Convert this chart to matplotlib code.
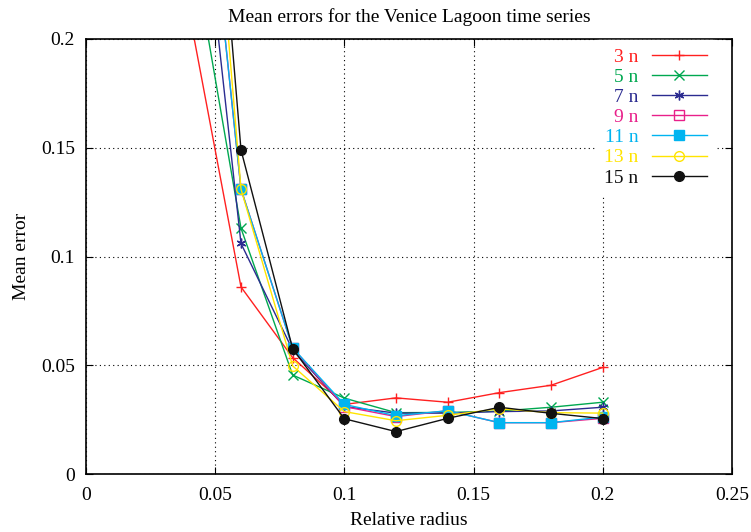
import matplotlib
matplotlib.use("Agg")
import matplotlib.pyplot as plt

plt.rcParams['font.family'] = ['Liberation Serif', 'DejaVu Serif']

radius = [0.04, 0.06, 0.08, 0.10, 0.12, 0.14, 0.16, 0.18, 0.20]

err_3n = [0.212, 0.086, 0.0535, 0.032, 0.0350, 0.0330, 0.0374, 0.0408, 0.0490]
err_5n = [0.251, 0.113, 0.0455, 0.0349, 0.0282, 0.0283, 0.0289, 0.0307, 0.0330]
err_7n = [0.322, 0.106, 0.0570, 0.0310, 0.0280, 0.0280, 0.0287, 0.0290, 0.0307]
err_9n = [0.357, 0.131, 0.0580, 0.0310, 0.0264, 0.0291, 0.0236, 0.0236, 0.0256]
err_11n = [0.357, 0.131, 0.0580, 0.0320, 0.0268, 0.0291, 0.0236, 0.0236, 0.0262]
err_13n = [0.417, 0.131, 0.0497, 0.0287, 0.0245, 0.0270, 0.0300, 0.0282, 0.0280]
err_15n = [0.435, 0.149, 0.0576, 0.0254, 0.0195, 0.0256, 0.0307, 0.0279, 0.0255]

labels = ['3 n', '5 n', '7 n', '9 n', '11 n', '13 n', '15 n']
series = [err_3n, err_5n, err_7n, err_9n, err_11n, err_13n, err_15n]
colors = ['#ff2020', '#00a850', '#2b2b90', '#e8208a', '#00b4f0', '#ffe400', '#111111']
markers = ['+', 'x', (6, 2, 0), 's', 's', 'o', 'o']
filled = [True, True, True, False, True, False, True]

fig = plt.figure(figsize=(7.51, 5.32), dpi=100)
ax = fig.add_axes([0.1145, 0.109, 0.860, 0.8177])

for y, lab, c, m, f in zip(series, labels, colors, markers, filled):
    ax.plot(radius, y, color=c, marker=m, markersize=7, linewidth=1.0,
            markerfacecolor=c if f else 'none', markeredgecolor=c,
            markeredgewidth=1.0, label=lab)

ax.set_xlim(0, 0.25)
ax.set_ylim(0, 0.2)
ax.set_xticks([0, 0.05, 0.1, 0.15, 0.2, 0.25])
ax.set_xticklabels(['0', '0.05', '0.1', '0.15', '0.2', '0.25'])
ax.set_yticks([0, 0.05, 0.1, 0.15, 0.2])
ax.set_yticklabels(['0', '0.05', '0.1', '0.15', '0.2'])
ax.tick_params(direction='in', top=True, right=True, labelsize=14, length=5)
ax.tick_params(axis='x', pad=9)
ax.tick_params(axis='y', pad=8)
ax.grid(True, linestyle=(0, (1, 3)), color='black', linewidth=0.8)
for s in ax.spines.values():
    s.set_linewidth(1.2)

ax.set_title('Mean errors for the Venice Lagoon time series', fontsize=14, pad=12)
ax.set_xlabel('Relative radius', fontsize=14, labelpad=6)
ax.set_ylabel('Mean error', fontsize=14, labelpad=8)

leg = ax.legend(loc='upper right', bbox_to_anchor=(0.973, 0.997),
                markerfirst=False, frameon=True, fontsize=14,
                handlelength=2.8, labelspacing=0.13, borderaxespad=0,
                borderpad=0.4, handletextpad=0.7, fancybox=False)
leg.get_frame().set_edgecolor('white')
leg.get_frame().set_facecolor('white')
leg.get_frame().set_alpha(1.0)
for t, c in zip(leg.get_texts(), colors):
    t.set_color(c)
    t.set_ha('right')

fig.savefig('out.png', dpi=100)
